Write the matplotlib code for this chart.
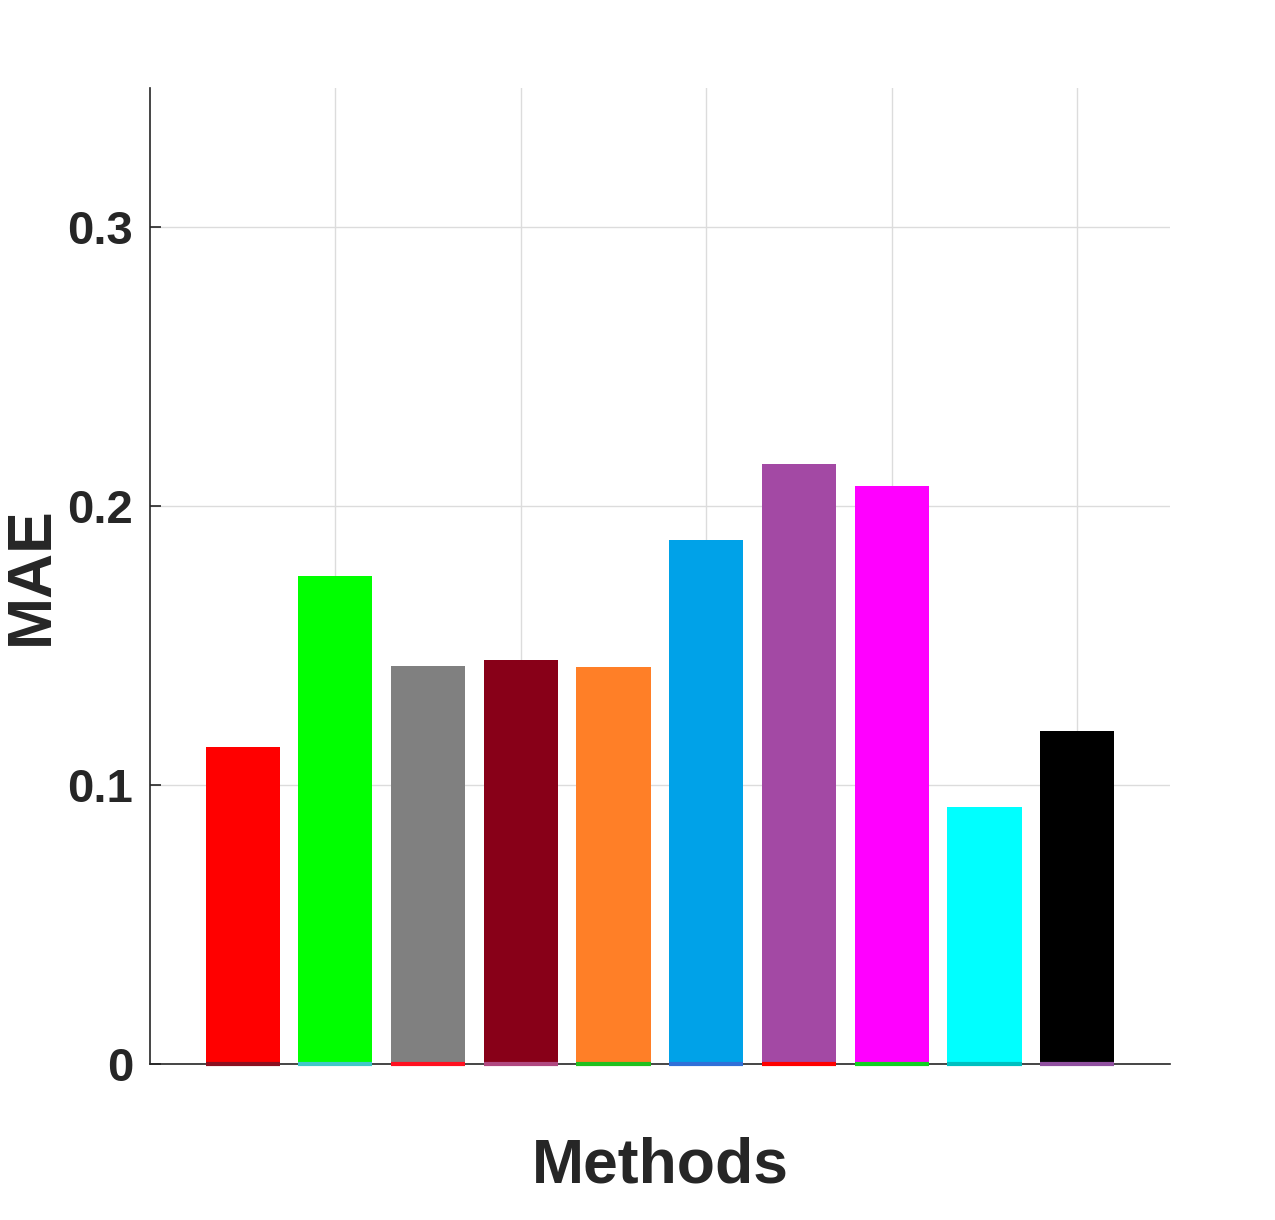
import numpy as np
import matplotlib.pyplot as plt

# Data
methods = np.arange(1, 11)
mae = [0.1137, 0.1751, 0.1428, 0.1450, 0.1424, 0.1880, 0.2153, 0.2074, 0.0922, 0.1195]
colors = ['#FF0000', '#00FF00', '#808080', '#880018', '#FF7F27',
          '#00A2E8', '#A349A4', '#FF00FF', '#00FFFF', '#000000']
base_colors = ['#8B1020', '#40C8C8', '#FF1020', '#B04880', '#20C020',
               '#3070D8', '#FF0000', '#10D020', '#00C0C0', '#9050A0']
xticks = [2, 4, 6, 8, 10]
yticks = [0, 0.1, 0.2, 0.3]
ytick_labels = ['0', '0.1', '0.2', '0.3']

plt.rcParams['font.family'] = ['Liberation Sans', 'DejaVu Sans']

fig = plt.figure(figsize=(12.75, 12.2), dpi=100)
ax = fig.add_axes([0.1176, 0.1279, 0.8, 0.8])

ax.bar(methods, mae, width=0.8, color=colors, zorder=2)
# thin coloured base edges as in the original render
ax.bar(methods, [0] * len(methods), width=0.8, bottom=0, fill=False,
       edgecolor=base_colors, linewidth=3, zorder=4, clip_on=False)

ax.set_xlim(0, 11)
ax.set_ylim(0, 0.35)
ax.set_xticks(xticks)
ax.set_xticklabels([])
ax.set_yticks(yticks)
ax.set_yticklabels(ytick_labels, fontsize=34, fontweight='bold', color='#262626')

ax.grid(True, color='#dcdcdc', linewidth=1, zorder=0)
ax.set_axisbelow(True)
ax.spines['top'].set_visible(False)
ax.spines['right'].set_visible(False)
for s in ['left', 'bottom']:
    ax.spines[s].set_color('#262626')
    ax.spines[s].set_linewidth(1.2)
ax.tick_params(direction='in', length=8, width=1.2, color='#262626', pad=12)

ax.set_xlabel('Methods', fontsize=45, fontweight='bold', color='#262626', labelpad=40)
ax.set_ylabel('MAE', fontsize=45, fontweight='bold', color='#262626', labelpad=5)

fig.savefig('out.png', dpi=100)
